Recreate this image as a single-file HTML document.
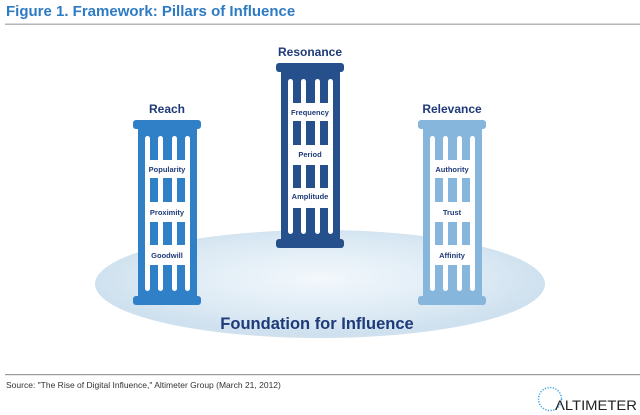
<!DOCTYPE html>
<html><head><meta charset="utf-8"><style>
html,body{margin:0;padding:0;background:#fff;width:640px;height:415px;overflow:hidden}
svg{display:block;font-family:"Liberation Sans",Arial,sans-serif}
</style></head><body>
<svg width="640" height="415" viewBox="0 0 640 415" xmlns="http://www.w3.org/2000/svg">
<defs>
<radialGradient id="eg" cx="50%" cy="45%" r="50%">
<stop offset="0" stop-color="#f3f8fc"/><stop offset="0.7" stop-color="#dceaf4"/><stop offset="1" stop-color="#cfe1ef"/>
</radialGradient>
<g id="pil">
<rect x="5" y="8" width="59" height="169"/>
<rect x="0" y="0" width="68" height="9" rx="3"/>
<rect x="0" y="176" width="68" height="9" rx="3"/>
<g fill="#fff">
<rect x="12" y="16" width="5" height="155" rx="2.5"/>
<rect x="25" y="16" width="5" height="155" rx="2.5"/>
<rect x="39" y="16" width="5" height="155" rx="2.5"/>
<rect x="52" y="16" width="5" height="155" rx="2.5"/>
<rect x="12" y="40" width="45" height="18"/>
<rect x="12" y="82" width="45" height="20"/>
<rect x="12" y="125" width="45" height="20"/>
</g>
</g>
</defs>
<text x="6" y="16" font-size="15" font-weight="bold" fill="#2d7bc3">Figure 1. Framework: Pillars of Influence</text>
<rect x="5" y="23.5" width="635" height="1.5" fill="#b5b5b5"/>
<ellipse cx="320" cy="284" rx="225" ry="54" fill="url(#eg)"/>
<use href="#pil" x="133" y="120" fill="#2f80c6"/>
<use href="#pil" x="276" y="63" fill="#25508c"/>
<use href="#pil" x="418" y="120" fill="#87b6dc"/>
<g font-weight="bold" fill="#1f3a78" text-anchor="middle">
<text x="167" y="113" font-size="12">Reach</text>
<text x="310" y="56" font-size="12">Resonance</text>
<text x="452" y="113" font-size="12">Relevance</text>
<g font-size="7.5">
<text x="167" y="172">Popularity</text>
<text x="167" y="215">Proximity</text>
<text x="167" y="258">Goodwill</text>
<text x="310" y="115">Frequency</text>
<text x="310" y="157">Period</text>
<text x="310" y="199">Amplitude</text>
<text x="452" y="172">Authority</text>
<text x="452" y="215">Trust</text>
<text x="452" y="258">Affinity</text>
</g>
<text x="317" y="329" font-size="16.5">Foundation for Influence</text>
</g>
<rect x="5" y="374" width="635" height="1.2" fill="#999"/>
<text x="6" y="388" font-size="8.5" fill="#333">Source: "The Rise of Digital Influence," Altimeter Group (March 21, 2012)</text>
<circle cx="550" cy="399" r="11.5" fill="none" stroke="#3ba3e0" stroke-width="1.5" stroke-dasharray="1.2 1.5"/>
<text x="555" y="410" font-size="13.5" fill="#222" textLength="82" lengthAdjust="spacingAndGlyphs">ΛLTIMETER</text>
</svg>
</body></html>
